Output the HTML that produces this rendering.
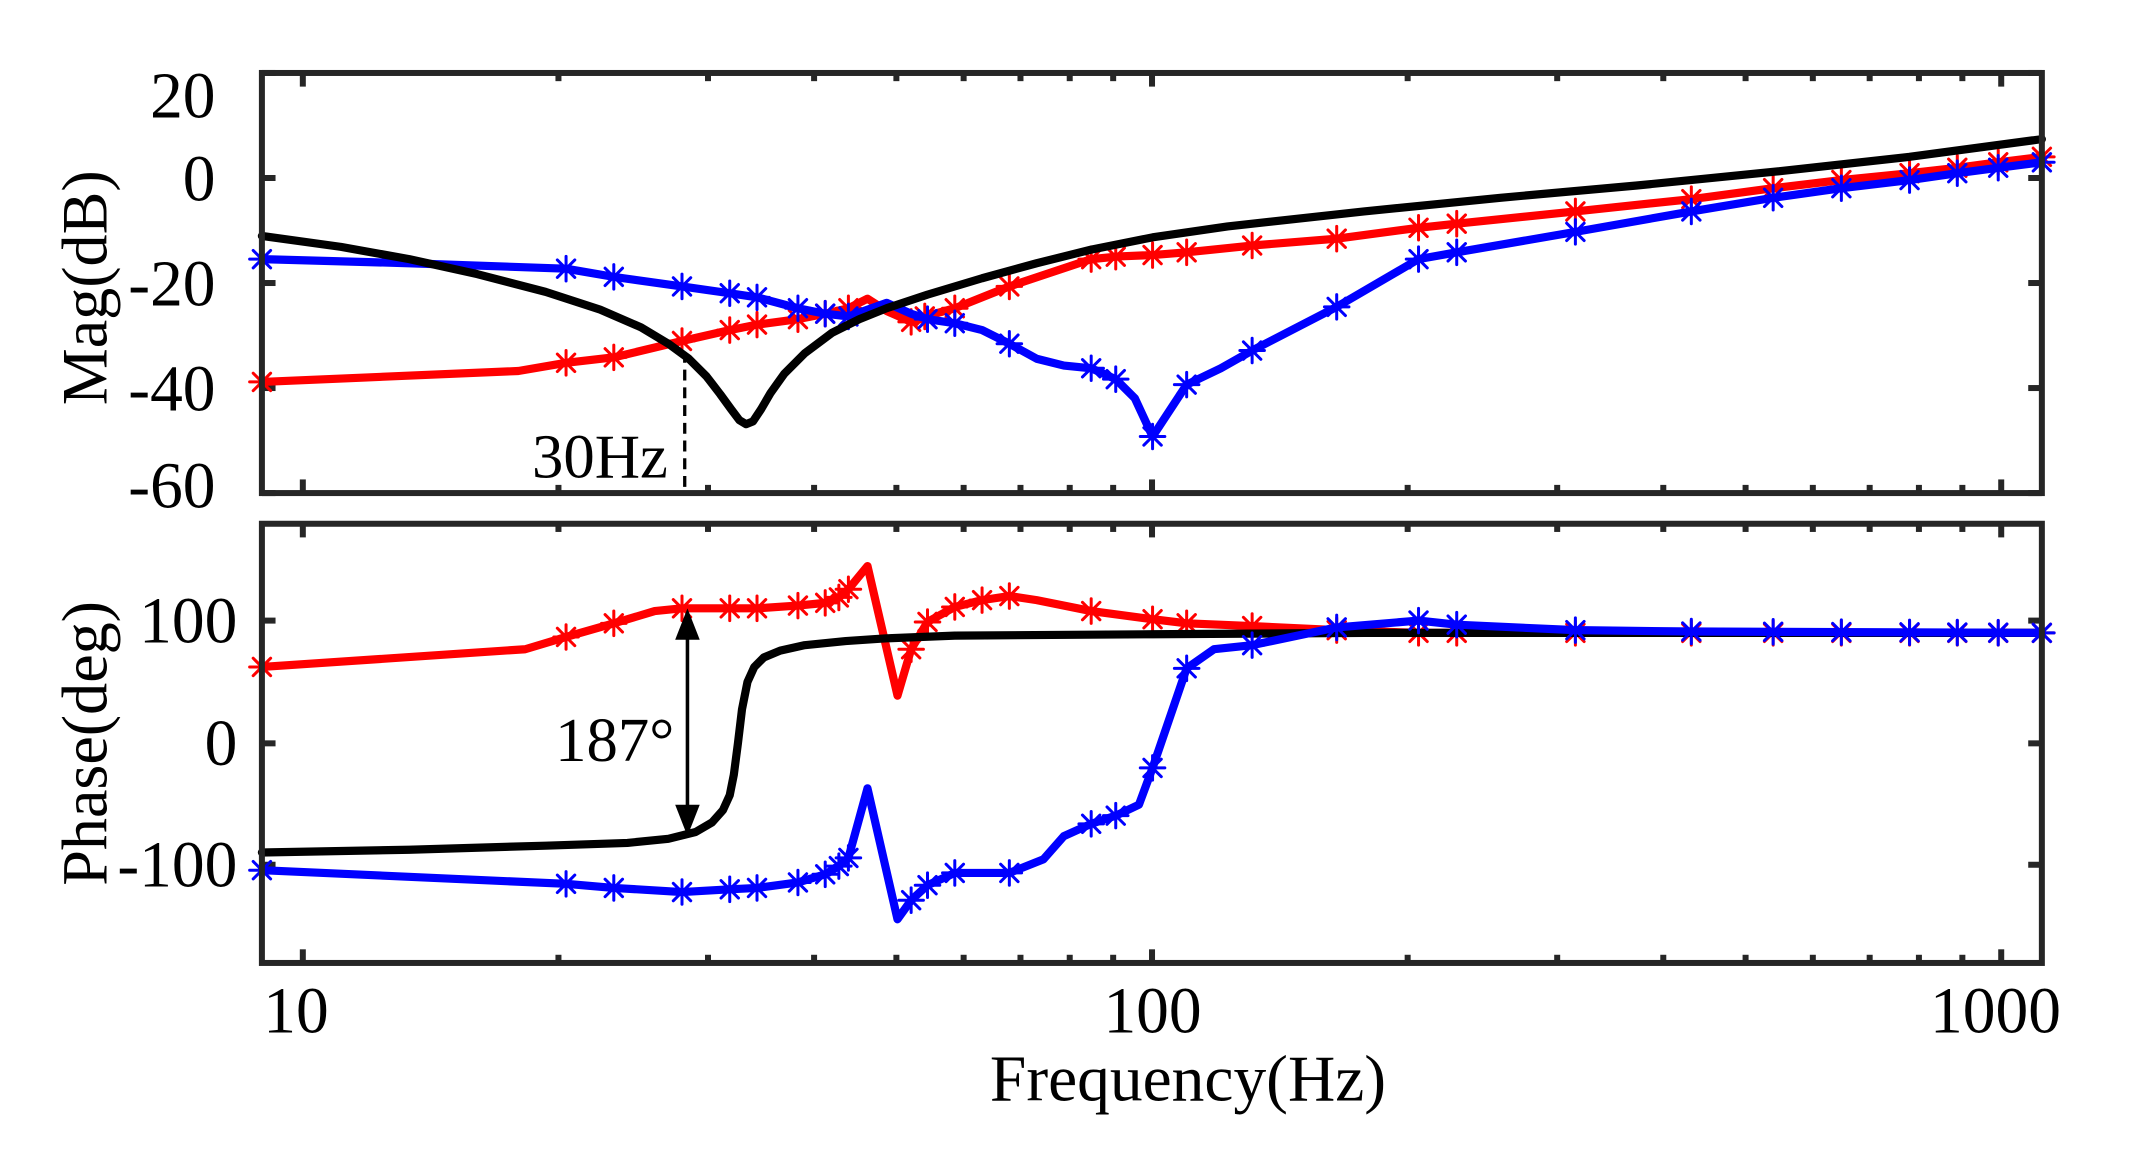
<!DOCTYPE html>
<html><head><meta charset="utf-8"><style>
html,body{margin:0;padding:0;background:#fff;}
svg{display:block;}
text{font-family:"Liberation Serif",serif;fill:#000;}
</style></head><body>
<svg id="s" width="2139" height="1164" viewBox="0 0 1568.2 853.4" xmlns="http://www.w3.org/2000/svg">
<g id="ticks" stroke="#262626" stroke-width="4.4" fill="none"></g>
<g id="data" fill="none" stroke-linejoin="round" stroke-linecap="round"></g>
<line x1="502" y1="258" x2="502" y2="361" stroke="#000" stroke-width="2.4" stroke-dasharray="8,5"/>
<text x="390" y="350" font-size="46">30Hz</text>
<line x1="504" y1="462" x2="504" y2="598" stroke="#000" stroke-width="2.6"/>
<polygon points="504,446 495,469 513,469" fill="#000"/>
<polygon points="504,613 495,590 513,590" fill="#000"/>
<text x="407" y="558" font-size="46">187°</text>
<rect x="192" y="53.5" width="1305" height="308" fill="none" stroke="#262626" stroke-width="4.4"/>
<rect x="192" y="384" width="1305" height="322" fill="none" stroke="#262626" stroke-width="4.4"/>
<g font-size="48" text-anchor="end">
<text x="158" y="86">20</text>
<text x="158" y="147">0</text>
<text x="158" y="224">-20</text>
<text x="158" y="301">-40</text>
<text x="158" y="372">-60</text>
<text x="174" y="471">100</text>
<text x="174" y="561">0</text>
<text x="174" y="650">-100</text>
</g>
<g font-size="48" text-anchor="middle">
<text x="217" y="757">10</text>
<text x="845" y="757">100</text>
<text x="1463" y="757">1000</text>
<text x="871" y="807">Frequency(Hz)</text>
<text transform="translate(78,211) rotate(-90)" font-size="47">Mag(dB)</text>
<text transform="translate(78,545) rotate(-90)" font-size="47">Phase(deg)</text>
</g>
</svg>
<script>
var NS="http://www.w3.org/2000/svg";
function el(p,t,a){var e=document.createElementNS(NS,t);for(var k in a)e.setAttribute(k,a[k]);p.appendChild(e);return e;}
var T=document.getElementById('ticks');
var X10=222, D=622.6;
function fx(f){return X10+D*Math.log10(f/10);}
var majors=[10,100,1000];
var freqs=[];
for(var d=1;d<=1000;d*=10)for(var m=1;m<10;m++){var f=d*m;freqs.push(f);}
freqs.forEach(function(f){
 var x=fx(f);if(x<194||x>1495)return;
 var L=(majors.indexOf(f)>=0)?10:6;
 [[53.5,1],[361.5,-1],[384,1],[706,-1]].forEach(function(p){el(T,'line',{x1:x,y1:p[0],x2:x,y2:p[0]+p[1]*L});});
});
[53.5,130.5,207.5,284.5,361.5,455,545,634].forEach(function(y){
 el(T,'line',{x1:192,y1:y,x2:202,y2:y});el(T,'line',{x1:1497,y1:y,x2:1487,y2:y});
});
var G=document.getElementById('data');
function line(pts,c,w){el(G,'polyline',{points:pts.map(function(p){return p[0]+','+p[1];}).join(' '),stroke:c,'stroke-width':w||6});}
function marks(pts,xs,c){
 xs.forEach(function(x){
  var y=null;
  for(var i=0;i<pts.length-1;i++){if(x>=pts[i][0]&&x<=pts[i+1][0]){var t=(x-pts[i][0])/((pts[i+1][0]-pts[i][0])||1);y=pts[i][1]+t*(pts[i+1][1]-pts[i][1]);break;}}
  if(y===null)return;var r=9,q=6.4;
  el(G,'path',{d:'M'+(x-r)+' '+y+'H'+(x+r)+'M'+x+' '+(y-r)+'V'+(y+r)+'M'+(x-q)+' '+(y-q)+'L'+(x+q)+' '+(y+q)+'M'+(x-q)+' '+(y+q)+'L'+(x+q)+' '+(y-q),stroke:c,'stroke-width':2.2});
 });
}
// black magnitude: smooth notch model
var blk=[];
for(var x=192;x<=1497;x+=3){
 var f=10*Math.pow(10,(x-X10)/D);
 var f0=35, r=f/f0;
 var mag=Math.sqrt(Math.pow(1-r*r,2)+Math.pow(0.12*r,2));
 var db=20*Math.log10(mag)+20*Math.log10(f0*f0/ f /1)* -0 ;
 blk.push([x,0]);
}
blk=[[192,173],[250,181],[300,190],[350,201],[400,214],[440,227],[470,240],[490,252],[505,263],[518,276],[528,289],[536,300],[542,308],[547,311],[552,309],[558,300],[565,288],[575,274],[590,259],[610,244],[630,234],[650,226],[680,216],[720,204],[760,193],[800,183],[845,174],[900,166],[1000,155],[1100,145],[1200,136],[1300,126],[1400,115],[1497,102]];
var red=[[192,280],[380,272],[415,266],[450,262],[500,250],[535,242],[555,238],[585,234],[605,230],[622,226],[636,219],[650,228],[668,236],[678,232],[700,226],[720,218],[740,210],[800,190],[820,188],[845,187],[870,185],[918,180],[980,175],[1040,167],[1068,164],[1155,155],[1240,146],[1300,138],[1350,132],[1400,127],[1435,123],[1465,119],[1497,115]];
var blu=[[192,190],[300,193],[415,197],[450,203],[500,210],[535,215],[555,218],[585,226],[605,230],[622,232],[650,222],[668,230],[680,234],[700,237],[720,242],[740,252],[760,263],[780,268],[800,270],[818,278],[832,292],[845,320],[870,282],[895,270],[918,257],[980,225],[1040,190],[1068,185],[1155,170],[1240,155],[1300,145],[1350,138],[1400,132],[1435,127],[1465,123],[1497,119]];
var mR=[192,415,450,500,535,555,585,605,622,668,678,700,740,800,818,845,870,918,980,1040,1068,1155,1240,1300,1350,1400,1435,1465,1497];
var mB=[192,415,450,500,535,555,585,605,622,680,700,740,800,818,845,870,918,980,1040,1068,1155,1240,1300,1350,1400,1435,1465,1497];
var pblk=[[192,625],[300,623],[400,620],[460,618],[490,615],[510,610],[522,603],[530,594],[535,583],[538,568],[541,545],[544,520],[548,500],[553,489],[560,482],[572,477],[590,473],[620,470],[650,468],[700,466],[845,465],[1000,464],[1497,464]];
var pred=[[192,489],[385,476],[415,467],[450,457],[480,448],[500,446],[535,446],[555,446],[585,444],[605,442],[615,438],[622,432],[636,415],[658,510],[668,476],[680,456],[700,445],[720,440],[740,437],[760,440],[800,448],[845,454],[870,457],[918,459],[980,462],[1040,464],[1497,464]];
var pblu=[[192,638],[415,648],[450,651],[500,654],[535,652],[555,651],[585,647],[605,641],[615,635],[622,629],[636,578],[658,674],[668,660],[680,649],[700,640],[740,640],[765,630],[780,613],[800,604],[818,598],[835,590],[845,563],[870,490],[890,476],[918,473],[980,460],[1040,455],[1068,458],[1155,462],[1240,463],[1497,464]];
var pmR=[192,415,450,500,535,555,585,605,615,622,668,680,700,720,740,800,845,870,918,980,1040,1068,1155,1240,1300,1350,1400,1435,1465,1497];
var pmB=[192,415,450,500,535,555,585,605,615,622,668,680,700,740,800,818,845,870,918,980,1040,1068,1155,1240,1300,1350,1400,1435,1465,1497];
line(red,'#ff0000');marks(red,mR,'#ff0000');
line(blu,'#0000ff');marks(blu,mB,'#0000ff');
line(blk,'#000',6);
line(pred,'#ff0000');marks(pred,pmR,'#ff0000');
line(pblk,'#000',6);
line(pblu,'#0000ff');marks(pblu,pmB,'#0000ff');
</script>
</body></html>
